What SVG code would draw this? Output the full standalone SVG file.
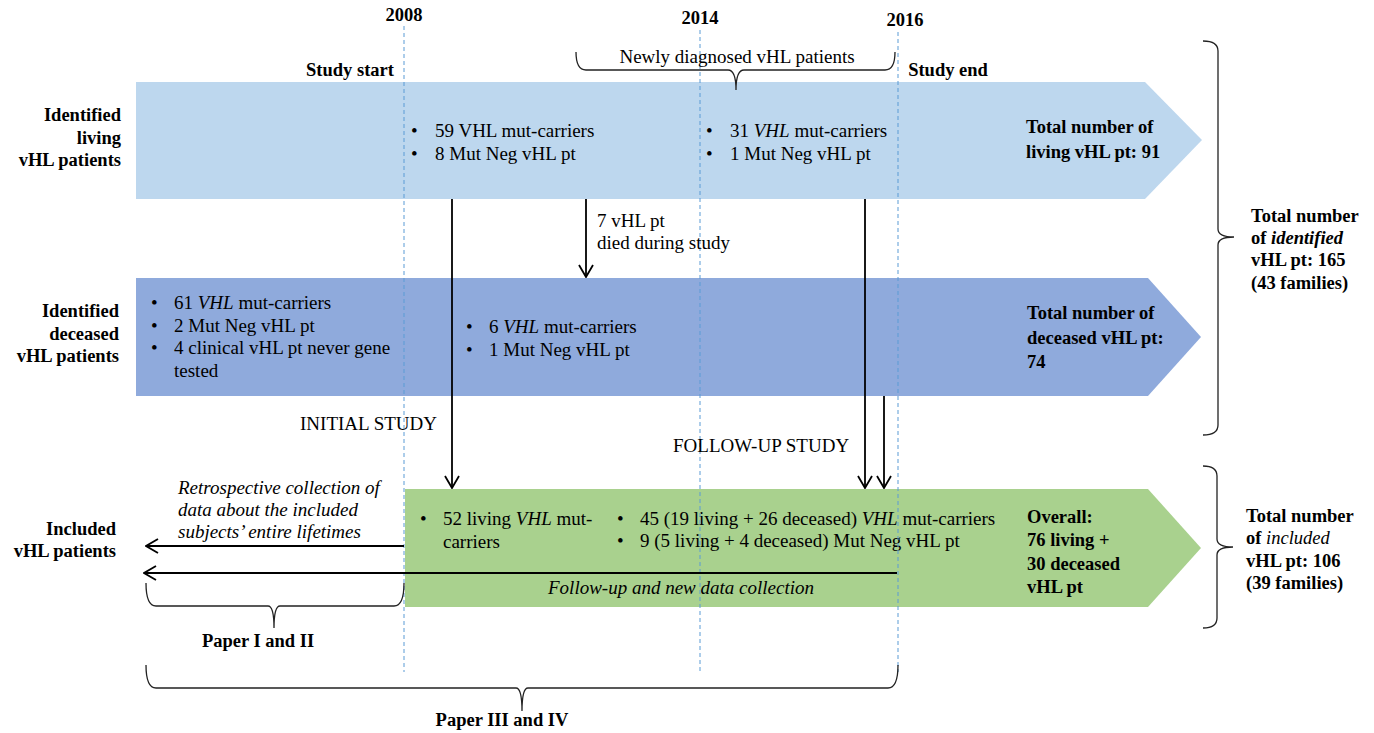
<svg xmlns="http://www.w3.org/2000/svg" width="1374" height="733" viewBox="0 0 1374 733" font-family="'Liberation Serif', 'Times New Roman', serif">
<defs>
<style>
text{font-family:"Liberation Serif","Times New Roman",serif;fill:#000}
.r{font-size:19px}
.b{font-size:18.5px;font-weight:bold}
.i{font-style:italic}
.end{text-anchor:end}
.mid{text-anchor:middle}
.dash{stroke:#5B9BD5;stroke-width:1;stroke-dasharray:4 3;fill:none}
.con{stroke:#000;stroke-width:1.8;fill:none}
.brace{stroke:#222;stroke-width:1.3;fill:none}
</style>
<marker id="ah" viewBox="0 0 14 16" refX="13" refY="8" markerWidth="14" markerHeight="16" markerUnits="userSpaceOnUse" orient="auto">
<path d="M1,1 L13,8 L1,15" fill="none" stroke="#000" stroke-width="1.8"/>
</marker>
</defs>
<rect width="1374" height="733" fill="#fff"/>

<g id="living-band">
<polygon points="136,82 1145,82 1202,140 1145,199 136,199" fill="#BDD7EE"/>
<text class="r" x="411" y="137">•</text><text class="r" x="435" y="137">59 VHL mut-carriers</text>
<text class="r" x="411" y="160">•</text><text class="r" x="435" y="160">8 Mut Neg vHL pt</text>
<text class="r" x="706" y="137">•</text><text class="r" x="730" y="137">31 <tspan class="i">VHL</tspan> mut-carriers</text>
<text class="r" x="706" y="160">•</text><text class="r" x="730" y="160">1 Mut Neg vHL pt</text>
<text class="b" x="1026" y="133">Total number of</text>
<text class="b" x="1026" y="158">living vHL pt: 91</text>
</g>

<g id="deceased-band">
<polygon points="136,278 1148,278 1201,337 1148,396 136,396" fill="#8FAADC"/>
<text class="r" x="151" y="309">•</text><text class="r" x="174" y="309">61 <tspan class="i">VHL</tspan> mut-carriers</text>
<text class="r" x="151" y="332">•</text><text class="r" x="174" y="332">2 Mut Neg vHL pt</text>
<text class="r" x="151" y="354">•</text><text class="r" x="174" y="354">4 clinical vHL pt never gene</text>
<text class="r" x="174" y="377">tested</text>
<text class="r" x="466" y="333">•</text><text class="r" x="489" y="333">6 <tspan class="i">VHL</tspan> mut-carriers</text>
<text class="r" x="466" y="356">•</text><text class="r" x="489" y="356">1 Mut Neg vHL pt</text>
<text class="b" x="1027" y="319">Total number of</text>
<text class="b" x="1027" y="344">deceased vHL pt:</text>
<text class="b" x="1027" y="368">74</text>
</g>

<g id="included-band">
<polygon points="405,489 1148,489 1201,548 1148,607 405,607" fill="#A9D18E"/>
<text class="r" x="420" y="525">•</text><text class="r" x="443" y="525">52 living <tspan class="i">VHL</tspan> mut-</text>
<text class="r" x="443" y="548">carriers</text>
<text class="r" x="617" y="525">•</text><text class="r" x="640" y="525">45 (19 living + 26 deceased) <tspan class="i">VHL</tspan> mut-carriers</text>
<text class="r" x="617" y="547">•</text><text class="r" x="640" y="547">9 (5 living + 4 deceased) Mut Neg vHL pt</text>
<text class="b" x="1027" y="523">Overall:</text>
<text class="b" x="1027" y="546">76 living +</text>
<text class="b" x="1027" y="570">30 deceased</text>
<text class="b" x="1027" y="593">vHL pt</text>
<text class="r i mid" x="681" y="594">Follow-up and new data collection</text>
</g>

<g id="timeline">
<line class="dash" x1="404" y1="26" x2="404" y2="672"/>
<line class="dash" x1="700" y1="30" x2="700" y2="672"/>
<line class="dash" x1="898" y1="32" x2="898" y2="672"/>
<text class="b mid" x="404" y="21">2008</text>
<text class="b mid" x="700" y="24">2014</text>
<text class="b mid" x="905" y="26">2016</text>
<text class="b mid" x="350" y="76">Study start</text>
<text class="b mid" x="948" y="76">Study end</text>
</g>

<g id="row-labels">
<text class="b end" x="121" y="121">Identified</text>
<text class="b end" x="121" y="144">living</text>
<text class="b end" x="121" y="166">vHL patients</text>
<text class="b end" x="119" y="317">Identified</text>
<text class="b end" x="119" y="340">deceased</text>
<text class="b end" x="119" y="362">vHL patients</text>
<text class="b end" x="116" y="535">Included</text>
<text class="b end" x="116" y="557">vHL patients</text>
</g>

<g id="newly-diagnosed">
<path class="brace" d="M576,52 Q576,70 586,70 L728,70 Q736,70 736,90 Q736,70 744,70 L885,70 Q895,70 895,52"/>
<text class="r mid" x="737" y="63">Newly diagnosed vHL patients</text>
</g>

<g id="total-identified">
<path class="brace" d="M1203,41 Q1218,41 1218,51 L1218,229 Q1218,237 1234,237 Q1218,237 1218,245 L1218,425 Q1218,435 1203,435"/>
<text class="b" x="1251" y="222">Total number</text>
<text class="b" x="1251" y="244">of <tspan class="i">identified</tspan></text>
<text class="b" x="1251" y="266">vHL pt: 165</text>
<text class="b" x="1251" y="289">(43 families)</text>
</g>

<g id="total-included">
<path class="brace" d="M1203,466 Q1217,466 1217,476 L1217,539 Q1217,547 1233,547 Q1217,547 1217,555 L1217,618 Q1217,628 1203,628"/>
<text class="b" x="1246" y="522">Total number</text>
<text class="b" x="1246" y="544">of <tspan class="i" font-weight="normal">included</tspan></text>
<text class="b" x="1246" y="567">vHL pt: 106</text>
<text class="b" x="1246" y="589">(39 families)</text>
</g>

<g id="paper-1-2">
<path class="brace" d="M146,583 Q146,606 156,606 L268,606 Q274,606 274,628 Q274,606 280,606 L394,606 Q404,606 404,583"/>
<text class="b mid" x="258" y="647">Paper I and II</text>
</g>

<g id="paper-3-4">
<path class="brace" d="M146,665 Q146,688 156,688 L516,688 Q522,688 522,711 Q522,688 528,688 L888,688 Q898,688 898,665"/>
<text class="b mid" x="502" y="726">Paper III and IV</text>
</g>

<g id="study-labels">
<text class="r" x="300" y="430">INITIAL STUDY</text>
<text class="r" x="673" y="452">FOLLOW-UP STUDY</text>
<text class="r" x="597" y="227">7 vHL pt</text>
<text class="r" x="597" y="249">died during study</text>
<text class="r i" x="178" y="494">Retrospective collection of</text>
<text class="r i" x="178" y="516">data about the included</text>
<text class="r i" x="178" y="538">subjects’ entire lifetimes</text>
</g>

<g id="connectors">
<line class="con" x1="452" y1="199" x2="452" y2="488" marker-end="url(#ah)"/>
<line class="con" x1="586" y1="199" x2="586" y2="277" marker-end="url(#ah)"/>
<line class="con" x1="865" y1="199" x2="865" y2="488" marker-end="url(#ah)"/>
<line class="con" x1="884" y1="396" x2="884" y2="488" marker-end="url(#ah)"/>
<line class="con" x1="404" y1="546" x2="146" y2="546" marker-end="url(#ah)"/>
<line class="con" x1="897" y1="573" x2="144" y2="573" marker-end="url(#ah)"/>
</g>
</svg>
